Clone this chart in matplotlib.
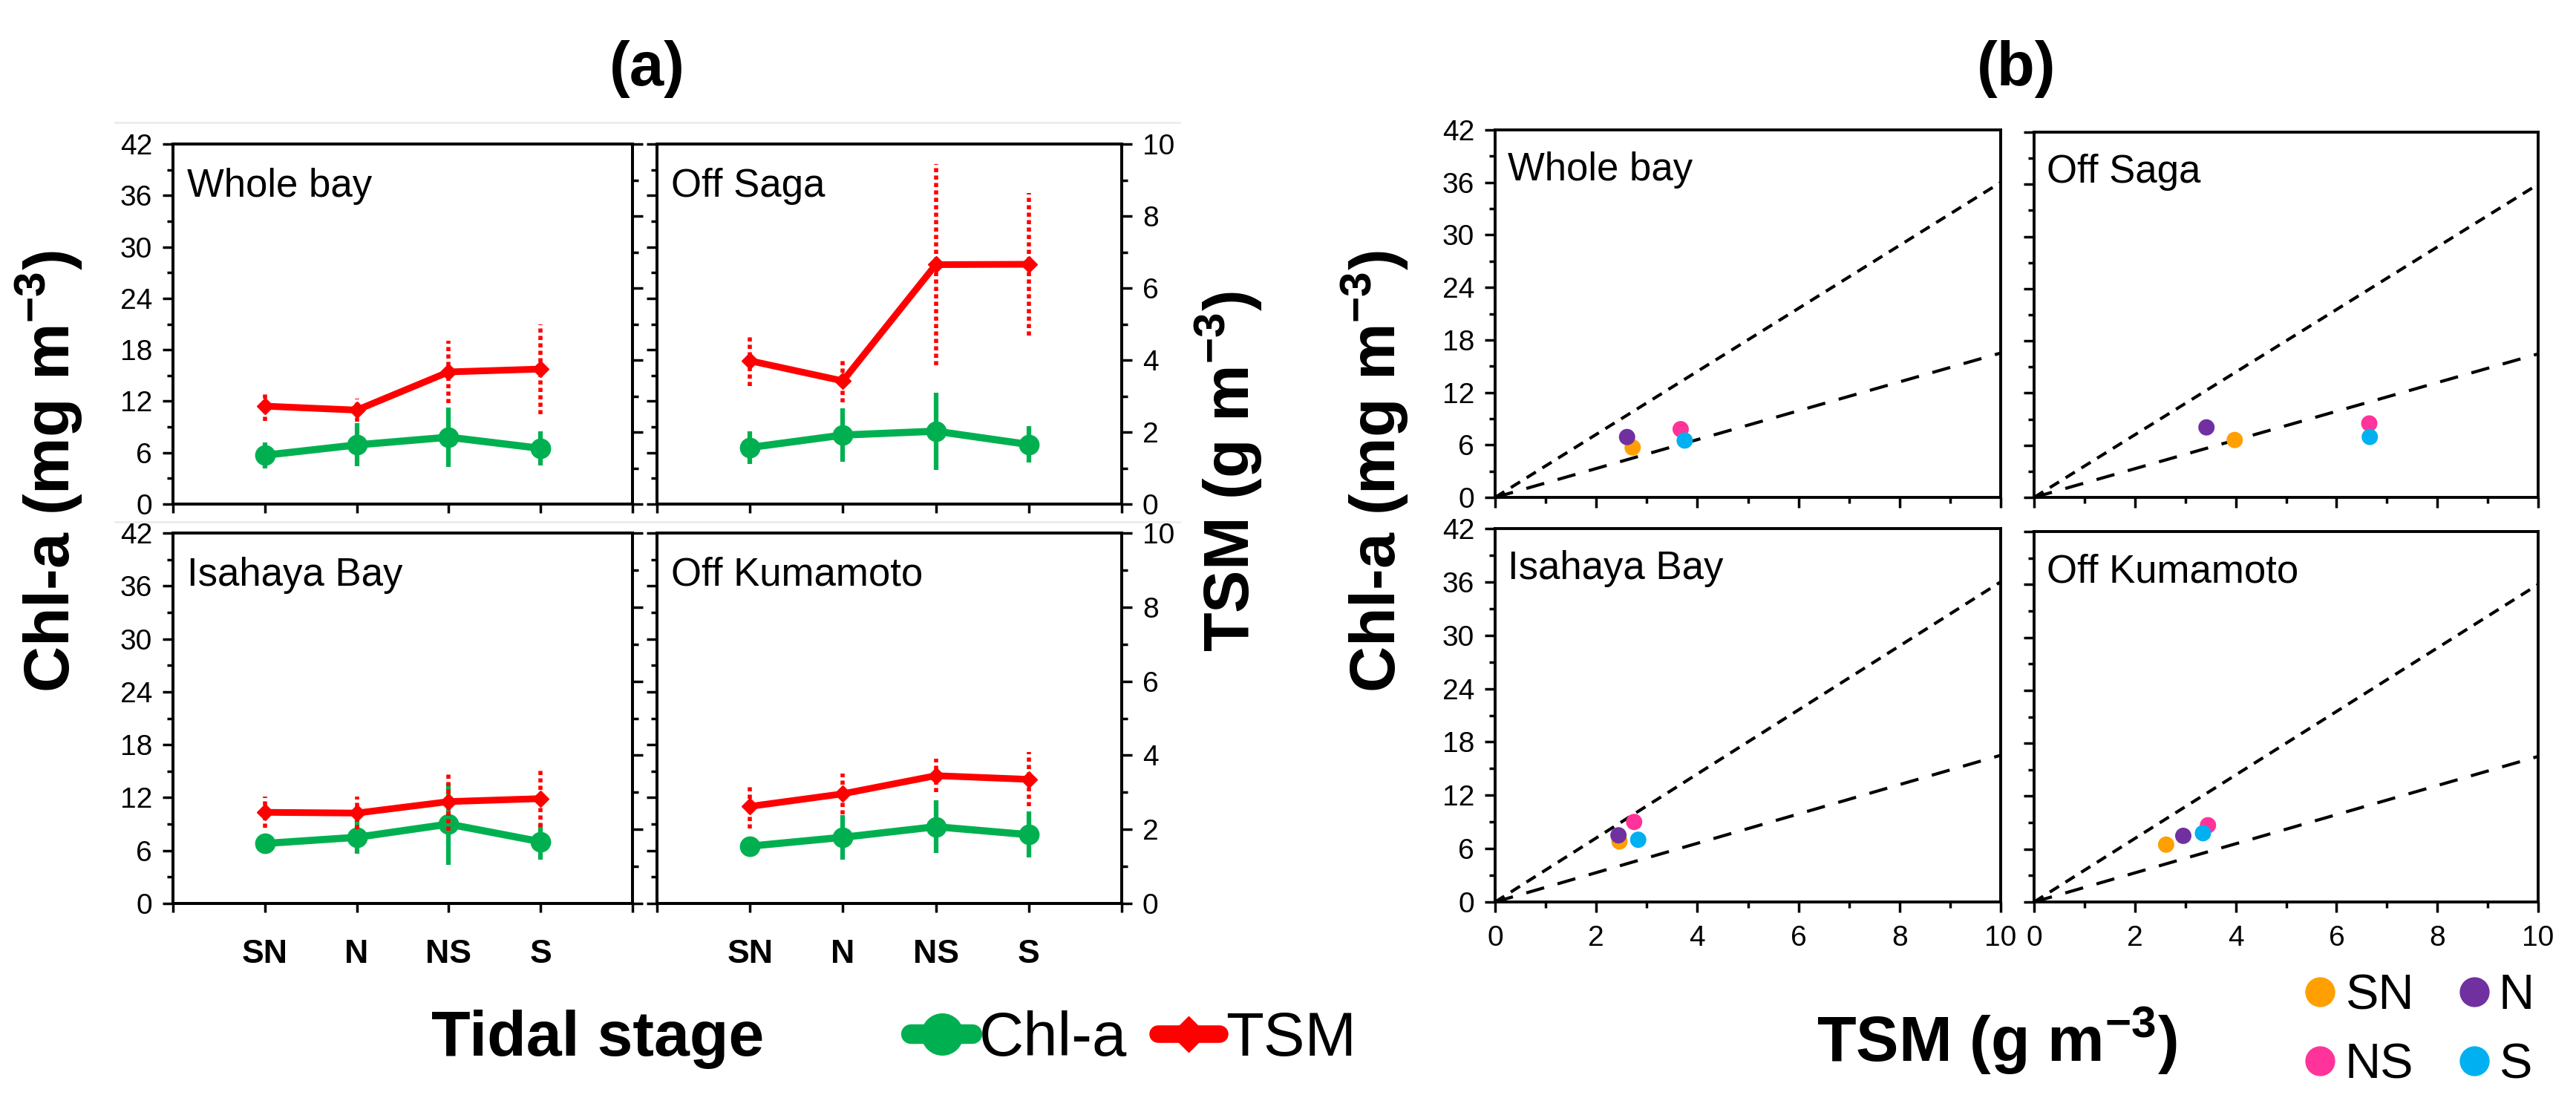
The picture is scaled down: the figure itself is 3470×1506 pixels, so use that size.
import numpy as np
import matplotlib.pyplot as plt
from matplotlib.lines import Line2D
from matplotlib.ticker import MultipleLocator

plt.rcParams['font.family'] = ['Liberation Sans', 'DejaVu Sans']
plt.rcParams['mathtext.fontset'] = 'custom'
plt.rcParams['mathtext.rm'] = 'Liberation Sans'
plt.rcParams['mathtext.bf'] = 'Liberation Sans:bold'
plt.rcParams['mathtext.it'] = 'Liberation Sans:italic'

# Data
regions = ["Whole bay", "Off Saga", "Isahaya Bay", "Off Kumamoto"]
stages = ["SN", "N", "NS", "S"]

chl_whole = [5.7, 6.9, 7.8, 6.5]
chl_whole_err = [1.5, 2.5, 3.5, 2.0]
tsm_whole = [2.72, 2.61, 3.67, 3.75]
tsm_whole_err = [0.42, 0.32, 0.87, 1.25]

chl_saga = [6.6, 8.05, 8.5, 6.95]
chl_saga_err = [1.9, 3.1, 4.5, 2.1]
tsm_saga = [3.98, 3.42, 6.65, 6.66]
tsm_saga_err = [0.7, 0.6, 2.8, 1.97]

chl_isahaya = [6.8, 7.5, 9.0, 7.0]
chl_isahaya_err = [0.5, 1.9, 4.6, 2.0]
tsm_isahaya = [2.46, 2.44, 2.75, 2.83]
tsm_isahaya_err = [0.42, 0.44, 0.78, 0.77]

chl_kuma = [6.5, 7.5, 8.7, 7.8]
chl_kuma_err = [0.4, 2.5, 3.0, 2.6]
tsm_kuma = [2.62, 2.96, 3.45, 3.35]
tsm_kuma_err = [0.6, 0.55, 0.45, 0.73]

ratio_slopes = [3.6, 1.65]

chl_all = [chl_whole, chl_saga, chl_isahaya, chl_kuma]
chl_err_all = [chl_whole_err, chl_saga_err, chl_isahaya_err, chl_kuma_err]
tsm_all = [tsm_whole, tsm_saga, tsm_isahaya, tsm_kuma]
tsm_err_all = [tsm_whole_err, tsm_saga_err, tsm_isahaya_err, tsm_kuma_err]

green = '#00B050'
red = '#FF0000'
stage_colors = ['#FF9F00', '#7030A0', '#FF3399', '#00B0F0']

W, H = 3470, 1506
fig = plt.figure(figsize=(W / 100, H / 100), dpi=100)


def box(x0, y0, x1, y1):
    return [x0 / W, 1 - y1 / H, (x1 - x0) / W, (y1 - y0) / H]


def style(ax):
    for s in ax.spines.values():
        s.set_linewidth(2.8)
    ax.tick_params(which='major', direction='out', length=10, width=2.5, labelsize=28, pad=10)
    ax.tick_params(which='minor', direction='out', length=6, width=2.5)


# ---- panel (a) ----
a_boxes = [(233, 194, 852, 679), (885, 194, 1511, 679),
           (233, 718, 852, 1217), (885, 718, 1511, 1217)]
x = np.arange(1, 5)
for i, b in enumerate(a_boxes):
    row, col = i // 2, i % 2
    ax = fig.add_axes(box(*b))
    ax2 = ax.twinx()
    ax.errorbar(x, chl_all[i], yerr=chl_err_all[i], fmt='none', ecolor=green,
                elinewidth=4.5, capsize=0, zorder=2)
    ax.plot(x, chl_all[i], color=green, lw=7, marker='o', ms=19, zorder=3)
    eb = ax2.errorbar(x, tsm_all[i], yerr=tsm_err_all[i], fmt='none', ecolor=red,
                      elinewidth=4, capsize=0, zorder=2)
    eb.lines[2][0].set_linestyle((0, (1, 0.8)))
    ax2.plot(x, tsm_all[i], color=red, lw=6.5, marker='D', ms=11, zorder=3)

    ax.set_xlim(0, 5)
    ax.set_ylim(0, 42)
    ax2.set_ylim(0, 10)
    ax.yaxis.set_major_locator(MultipleLocator(6))
    ax.yaxis.set_minor_locator(MultipleLocator(3))
    ax2.yaxis.set_major_locator(MultipleLocator(2))
    ax2.yaxis.set_minor_locator(MultipleLocator(1))
    style(ax)
    style(ax2)
    ax.set_xticks(range(6))
    if row == 1:
        ax.set_xticklabels([''] + stages + [''], fontweight='bold', fontsize=32)
    else:
        ax.set_xticklabels([''] * 6)
    ax.tick_params(axis='x', length=8.5, pad=26)
    if col == 1:
        ax.tick_params(axis='y', which='both', labelleft=False)
    else:
        ax2.tick_params(axis='y', which='both', labelright=False)
    ax.annotate(regions[i], xy=(0, 1), xycoords='axes fraction', xytext=(14, -23),
                textcoords='offset points', ha='left', va='top', fontsize=38)

# ---- panel (b) ----
b_boxes = [(2014, 175, 2695, 670), (2740, 178, 3419, 670),
           (2014, 712, 2695, 1215), (2740, 716, 3419, 1215)]
xs = np.array([0, 10])
for i, b in enumerate(b_boxes):
    row, col = i // 2, i % 2
    ax = fig.add_axes(box(*b))
    ax.plot(xs, ratio_slopes[0] * xs, color='k', lw=3, dashes=(3.5, 2.5))
    ax.plot(xs, ratio_slopes[1] * xs, color='k', lw=3, dashes=(6, 4.5))
    for k in range(4):
        ax.scatter(tsm_all[i][k], chl_all[i][k], s=250, color=stage_colors[k],
                   edgecolors='none', zorder=3)
    ax.set_xlim(0, 10)
    ax.set_ylim(0, 42)
    ax.xaxis.set_major_locator(MultipleLocator(2))
    ax.xaxis.set_minor_locator(MultipleLocator(1))
    ax.yaxis.set_major_locator(MultipleLocator(6))
    ax.yaxis.set_minor_locator(MultipleLocator(3))
    style(ax)
    ax.tick_params(axis='x', pad=12)
    if row == 0:
        ax.tick_params(axis='x', which='both', labelbottom=False)
    if col == 1:
        ax.tick_params(axis='y', which='both', labelleft=False)
    ax.annotate(regions[i], xy=(0, 1), xycoords='axes fraction', xytext=(12, -21),
                textcoords='offset points', ha='left', va='top', fontsize=38)

# ---- titles and axis labels ----
fig.text(872 / W, 1 - 93 / H, '(a)', fontsize=60, fontweight='bold', ha='center', va='center')
fig.text(2716 / W, 1 - 93 / H, '(b)', fontsize=60, fontweight='bold', ha='center', va='center')

chl_label = r'Chl-a (mg m$^{\mathbf{-3}}$)'
tsm_label = r'TSM (g m$^{\mathbf{-3}}$)'
fig.text(66 / W, 1 - 635 / H, chl_label, rotation=90, fontsize=62, fontweight='bold',
         ha='center', va='center')
fig.text(1852 / W, 1 - 635 / H, chl_label, rotation=90, fontsize=62, fontweight='bold',
         ha='center', va='center')
fig.text(1655 / W, 1 - 635 / H, tsm_label, rotation=90, fontsize=62, fontweight='bold',
         ha='center', va='center')
fig.text(805 / W, 1 - 1400 / H, 'Tidal stage', fontsize=62, fontweight='bold',
         ha='center', va='center')
fig.text(2690 / W, 1 - 1402 / H, tsm_label, fontsize=62, fontweight='bold',
         ha='center', va='center')

# faint separators from the original composite
for yy in (165, 703):
    fig.add_artist(Line2D([155 / W, 1589 / W], [1 - yy / H] * 2, color='#ececec', lw=2))

# ---- legends ----
h_chl = Line2D([], [], color=green, lw=19, marker='o', ms=40, solid_capstyle='round')
h_tsm = Line2D([], [], color=red, lw=17, marker='D', ms=24, solid_capstyle='round')
fig.legend([h_chl, h_tsm], ['Chl-a', 'TSM'], loc='center left',
           bbox_to_anchor=(1227 / W, 1 - 1400 / H), ncol=2, frameon=False, fontsize=60,
           handlelength=1.0, handletextpad=0.1, columnspacing=0.5,
           borderpad=0, borderaxespad=0)

order = [0, 2, 1, 3]
st_handles = [Line2D([], [], ls='none', marker='o', ms=28, color=stage_colors[k]) for k in order]
fig.legend(st_handles, [stages[k] for k in order], loc='upper left',
           bbox_to_anchor=(3102 / W, 1 - 1311 / H), ncol=2, frameon=False, fontsize=48,
           handlelength=0.7, handletextpad=0.15, columnspacing=0.87, labelspacing=0.47,
           borderpad=0, borderaxespad=0)

fig.savefig('out.png', dpi=100)
